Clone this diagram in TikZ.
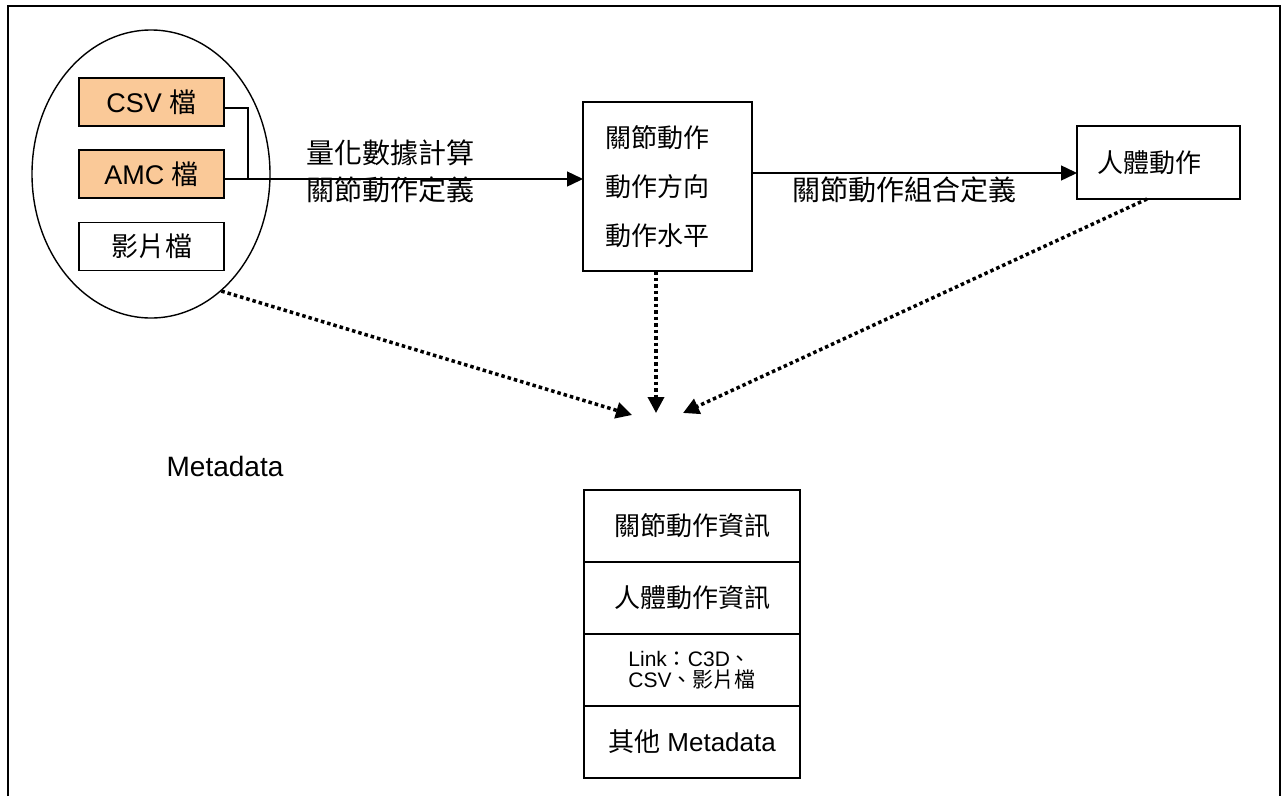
\documentclass[tikz,border=0pt]{standalone}
\usepackage{fontspec}
\setmainfont{Liberation Sans}
\newfontfamily\cjk{Noto Sans CJK TC}
\usetikzlibrary{shapes.geometric,arrows.meta}
\definecolor{filetan}{RGB}{250,201,152}
\newcommand{\fsz}[2]{\fontsize{#1}{#2}\selectfont}
\tikzset{
  box/.style={draw, line width=1.4pt, inner sep=0pt, outer sep=0pt},
  filebox/.style={box, minimum width=145pt, minimum height=48pt, font=\fsz{27}{32}},
  rowbox/.style={box, minimum width=216pt, minimum height=72pt},
  conn/.style={line width=1.4pt},
  conarrow/.style={conn, -{Triangle[length=16pt,width=15pt]}},
  dotarrow/.style={line width=3.5pt, dash pattern=on 3.5pt off 3pt, -{Triangle[length=16pt,width=16pt]}},
  lbl/.style={inner sep=0pt, font=\cjk\fsz{28}{37}},
}
\begin{document}
\begin{tikzpicture}[x=1pt,y=-1pt]
\useasboundingbox (0,0) rectangle (1287,796);
% open frame
\draw[line width=2.4pt] (8,796) -- (8,6) -- (1280,6) -- (1280,796);

% source files
\node[ellipse, draw, line width=1.4pt, minimum width=238pt, minimum height=288pt, inner sep=0pt] (ell) at (151,174) {};
\node[filebox, fill=filetan] (csv) at (151.5,102) {CSV {\cjk 檔}};
\node[filebox, fill=filetan] (amc) at (151.5,174) {AMC {\cjk 檔}};
\node[filebox] (vid) at (151.5,246.5) {\cjk 影片檔};

% joint motion box
\node[box, minimum width=169pt, minimum height=169pt, text width=125pt, inner xsep=22pt, align=left,
      font=\cjk\fsz{26}{49}] (mid) at (667.5,186.5) {關節動作\\動作方向\\動作水平};

% human motion box
\node[box, minimum width=163pt, minimum height=73pt, text width=123pt, inner xsep=20pt, align=left,
      font=\cjk\fsz{26}{30}] (rb) at (1158.5,162.5) {人體動作};

% connectors into mid
\coordinate (j) at (248,179);
\draw[conn] ([yshift=-6pt]csv.east) -| (j);
\draw[conarrow] ([yshift=-5pt]amc.east) -- ([yshift=-5pt]amc.east -| mid.west);
\node[lbl, align=left] (l1) at (390,171.5) {量化數據計算\\關節動作定義};

% mid to rb
\draw[conarrow] ([yshift=13.5pt]mid.east) -- ([yshift=13.5pt]mid.east -| rb.west);
\node[lbl] (l2) at (904.5,190) {關節動作組合定義};

% dotted arrows to metadata
\coordinate (tL) at (632,415);
\coordinate (tM) at (656,413);
\coordinate (tR) at (683,413);
\draw[dotarrow] (ell.-59) -- (tL);
\draw[dotarrow] ([xshift=-11.5pt]mid.south) -- (tM);
\draw[dotarrow] ([xshift=-11.5pt]rb.south) -- (tR);

\node[inner sep=0pt, font=\fsz{28}{32}] (meta) at (225,466) {Metadata};

% metadata stack
\node[rowbox, font=\cjk\fsz{26}{30}] (r1) at (692,526) {關節動作資訊};
\node[rowbox, font=\cjk\fsz{26}{30}] (r2) at (692,598) {人體動作資訊};
\node[rowbox, align=left, font=\fsz{21}{21}] (r3) at (692,670) {Link{\cjk ：}C3D{\cjk 、}\\CSV{\cjk 、影片檔}};
\node[rowbox, font=\fsz{26}{30}] (r4) at (692,742) {{\cjk 其他} Metadata};
\end{tikzpicture}
\end{document}
